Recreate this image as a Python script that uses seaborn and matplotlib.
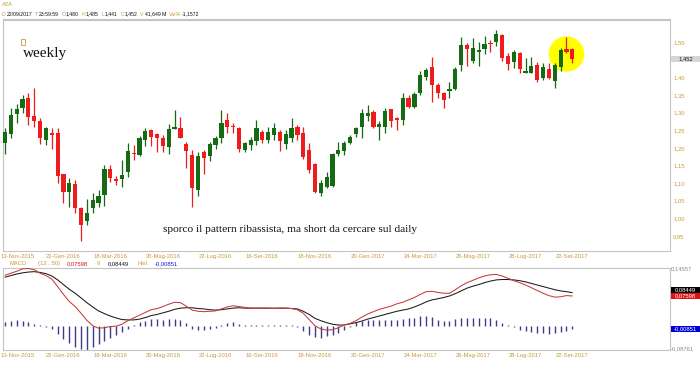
import numpy as np
import pandas as pd
import matplotlib
matplotlib.use("Agg")
import matplotlib.pyplot as plt
import matplotlib.transforms as mtransforms
from matplotlib.patches import Rectangle
import seaborn as sns

# ---------------- data ----------------
opens = [1.215, 1.240, 1.296, 1.312, 1.343, 1.291, 1.276, 1.221, 1.243, 1.241,
         1.126, 1.076, 1.097, 1.028, 0.993, 1.028, 1.044, 1.066, 1.139, 1.112,
         1.112, 1.132, 1.185, 1.180, 1.222, 1.251, 1.240, 1.229, 1.201, 1.254,
         1.256, 1.211, 1.180, 1.079, 1.189, 1.177, 1.208, 1.227, 1.279, 1.263,
         1.257, 1.194, 1.208, 1.220, 1.244, 1.222, 1.237, 1.244, 1.211, 1.227,
         1.260, 1.241, 1.194, 1.153, 1.073, 1.090, 1.093, 1.182, 1.191, 1.215,
         1.239, 1.260, 1.291, 1.303, 1.258, 1.260, 1.310, 1.284, 1.279, 1.343,
         1.317, 1.355, 1.402, 1.431, 1.379, 1.355, 1.362, 1.366, 1.436, 1.492,
         1.448, 1.473, 1.480, 1.499, 1.502, 1.521, 1.461, 1.443, 1.469, 1.414,
         1.414, 1.436, 1.398, 1.423, 1.391, 1.429, 1.481, 1.480]
highs = [1.256, 1.312, 1.325, 1.350, 1.357, 1.369, 1.284, 1.260, 1.256, 1.256,
         1.126, 1.114, 1.109, 1.033, 1.054, 1.071, 1.079, 1.151, 1.151, 1.120,
         1.166, 1.215, 1.208, 1.234, 1.256, 1.253, 1.241, 1.237, 1.267, 1.308,
         1.289, 1.218, 1.194, 1.189, 1.194, 1.218, 1.234, 1.308, 1.298, 1.272,
         1.260, 1.218, 1.232, 1.279, 1.251, 1.260, 1.270, 1.251, 1.251, 1.284,
         1.265, 1.260, 1.213, 1.156, 1.109, 1.132, 1.186, 1.218, 1.220, 1.237,
         1.260, 1.310, 1.322, 1.308, 1.277, 1.312, 1.310, 1.289, 1.355, 1.350,
         1.360, 1.417, 1.426, 1.457, 1.383, 1.360, 1.388, 1.431, 1.514, 1.497,
         1.511, 1.502, 1.518, 1.507, 1.535, 1.524, 1.469, 1.478, 1.473, 1.455,
         1.459, 1.445, 1.442, 1.440, 1.440, 1.483, 1.516, 1.485]
lows = [1.183, 1.227, 1.272, 1.298, 1.265, 1.260, 1.210, 1.208, 1.196, 1.099,
        1.043, 1.033, 1.016, 0.936, 0.981, 1.016, 1.033, 1.035, 1.104, 1.095,
        1.090, 1.118, 1.166, 1.177, 1.204, 1.205, 1.189, 1.189, 1.183, 1.253,
        1.227, 1.142, 1.031, 1.064, 1.126, 1.164, 1.196, 1.213, 1.241, 1.241,
        1.187, 1.187, 1.194, 1.208, 1.215, 1.213, 1.222, 1.192, 1.196, 1.218,
        1.222, 1.168, 1.128, 1.071, 1.064, 1.085, 1.088, 1.177, 1.180, 1.210,
        1.232, 1.227, 1.277, 1.256, 1.221, 1.241, 1.260, 1.251, 1.265, 1.312,
        1.312, 1.350, 1.393, 1.331, 1.341, 1.312, 1.341, 1.364, 1.417, 1.433,
        1.440, 1.433, 1.467, 1.473, 1.490, 1.448, 1.421, 1.426, 1.412, 1.412,
        1.412, 1.388, 1.393, 1.395, 1.369, 1.417, 1.469, 1.441]
closes = [1.246, 1.293, 1.311, 1.338, 1.287, 1.275, 1.227, 1.256, 1.237, 1.121,
          1.076, 1.101, 1.028, 0.981, 1.016, 1.052, 1.064, 1.139, 1.114, 1.107,
          1.123, 1.192, 1.183, 1.229, 1.248, 1.232, 1.229, 1.206, 1.253, 1.258,
          1.227, 1.192, 1.085, 1.177, 1.172, 1.211, 1.227, 1.270, 1.260, 1.260,
          1.197, 1.215, 1.221, 1.257, 1.222, 1.244, 1.257, 1.220, 1.239, 1.257,
          1.237, 1.175, 1.137, 1.074, 1.101, 1.116, 1.183, 1.194, 1.213, 1.232,
          1.257, 1.298, 1.300, 1.260, 1.268, 1.306, 1.277, 1.279, 1.343, 1.317,
          1.352, 1.407, 1.421, 1.379, 1.355, 1.336, 1.367, 1.423, 1.492, 1.480,
          1.485, 1.478, 1.495, 1.495, 1.524, 1.455, 1.438, 1.472, 1.423, 1.419,
          1.433, 1.393, 1.431, 1.398, 1.436, 1.478, 1.473, 1.452]

macd_line = [0.129, 0.134, 0.139, 0.145, 0.146, 0.143, 0.134, 0.128, 0.119, 0.100,
             0.080, 0.062, 0.049, 0.032, 0.014, 0.000, -0.006, -0.005, -0.002, -0.001,
             0.004, 0.013, 0.020, 0.027, 0.034, 0.041, 0.044, 0.049, 0.055, 0.060,
             0.059, 0.050, 0.040, 0.037, 0.036, 0.037, 0.038, 0.043, 0.048, 0.051,
             0.049, 0.047, 0.045, 0.045, 0.045, 0.045, 0.044, 0.045, 0.045, 0.044,
             0.041, 0.032, 0.016, 0.000, -0.008, -0.011, -0.010, -0.005, 0.002, 0.006,
             0.013, 0.022, 0.030, 0.036, 0.042, 0.046, 0.050, 0.056, 0.060, 0.066,
             0.072, 0.080, 0.087, 0.088, 0.085, 0.083, 0.083, 0.092, 0.102, 0.110,
             0.116, 0.122, 0.127, 0.130, 0.131, 0.127, 0.121, 0.115, 0.110, 0.104,
             0.097, 0.090, 0.083, 0.077, 0.073, 0.074, 0.077, 0.07598]
signal_line = [0.124, 0.128, 0.132, 0.135, 0.137, 0.138, 0.136, 0.133, 0.127, 0.117,
               0.105, 0.093, 0.083, 0.071, 0.059, 0.048, 0.038, 0.031, 0.025, 0.020,
               0.016, 0.015, 0.015, 0.017, 0.021, 0.026, 0.029, 0.033, 0.037, 0.042,
               0.045, 0.046, 0.046, 0.044, 0.043, 0.041, 0.040, 0.041, 0.043, 0.045,
               0.046, 0.045, 0.045, 0.045, 0.045, 0.045, 0.045, 0.045, 0.045, 0.044,
               0.043, 0.037, 0.029, 0.019, 0.013, 0.008, 0.004, 0.002, 0.002, 0.005,
               0.008, 0.012, 0.017, 0.021, 0.025, 0.029, 0.033, 0.037, 0.040, 0.043,
               0.048, 0.054, 0.061, 0.066, 0.069, 0.072, 0.076, 0.082, 0.089, 0.096,
               0.101, 0.105, 0.110, 0.114, 0.117, 0.118, 0.118, 0.117, 0.115, 0.112,
               0.108, 0.104, 0.100, 0.096, 0.092, 0.089, 0.087, 0.08449]
hist_values = [0.010, 0.013, 0.014, 0.013, 0.009, 0.005, 0.003, -0.003, -0.007, -0.021,
               -0.034, -0.044, -0.053, -0.060, -0.061, -0.055, -0.047, -0.038, -0.030, -0.023,
               -0.017, -0.007, 0.003, 0.009, 0.013, 0.017, 0.017, 0.015, 0.017, 0.017,
               0.015, 0.007, -0.007, -0.010, -0.010, -0.009, -0.005, 0.003, 0.007, 0.009,
               0.005, 0.002, 0.002, 0.002, 0.002, 0.002, 0.002, 0.002, 0.002, 0.002,
               -0.003, -0.012, -0.024, -0.029, -0.030, -0.027, -0.023, -0.019, -0.010, -0.004,
               0.009, 0.012, 0.014, 0.015, 0.015, 0.015, 0.014, 0.015, 0.017, 0.019,
               0.021, 0.024, 0.024, 0.022, 0.015, 0.012, 0.013, 0.017, 0.020, 0.020,
               0.020, 0.020, 0.019, 0.019, 0.015, 0.007, 0.003, -0.004, -0.010, -0.014,
               -0.016, -0.018, -0.019, -0.020, -0.019, -0.015, -0.013, -0.00851]

tick_index = [0, 10, 18, 27, 36, 44, 53, 62, 71, 80, 89, 97]
tick_labels = ["13-Nov-2015", "22-Gen-2016", "18-Mar-2016", "20-Mag-2016",
               "22-Lug-2016", "16-Set-2016", "18-Nov-2016", "20-Gen-2017",
               "24-Mar-2017", "26-Mag-2017", "28-Lug-2017", "22-Set-2017"]
price_ticks = [0.95, 1.00, 1.05, 1.10, 1.15, 1.20, 1.25, 1.30, 1.35, 1.40, 1.50]

last_price = 1.452
header_parts = [("D", "g"), ("22/09/2017", "k"), ("T", "g"), ("23:59:59", "k"),
                ("O", "g"), ("1,480", "k"), ("H", "g"), ("1,485", "k"),
                ("L", "g"), ("1,441", "k"), ("C", "g"), ("1,452", "k"),
                ("V", "g"), ("41,649 M", "k"), ("Var%", "g"), ("-1,1572", "k")]

# ---------------- style ----------------
sns.set_theme(style="white")
plt.rcParams["font.family"] = ["Liberation Sans", "DejaVu Sans"]

GOLD = "#c89b3c"
GREEN = "#146b14"
RED = "#ee1c1c"
SPINE = "#c4c4c4"

W, H = 700, 365
fig = plt.figure(figsize=(7, 3.65), dpi=100)
fig.patch.set_facecolor("white")

def fx(px):
    return px / W

def fy(py):
    return 1 - py / H

ax = fig.add_axes([fx(3), fy(251), fx(667), (251 - 19) / H])
ax2 = fig.add_axes([fx(3), fy(350), fx(667), (350 - 268.3) / H])

df = pd.DataFrame({"open": opens, "high": highs, "low": lows, "close": closes,
                   "macd": macd_line, "signal": signal_line, "hist": hist_values})
df["idx"] = np.arange(len(df))
up = df["close"] >= df["open"]
colors = np.where(up, GREEN, RED)

# ---------------- candles ----------------
ax.vlines(df["idx"], df["low"], df["high"], colors=colors, linewidth=0.9, zorder=3)
body_low = np.minimum(df["open"], df["close"])
body_h = np.maximum(np.abs(df["close"] - df["open"]), 0.003)
ax.bar(df["idx"], body_h, bottom=body_low, width=0.72, color=colors,
       linewidth=0, zorder=4)

# highlight circle round the last candles
cx = df["idx"].iloc[-3:].mean()
cy = (df["high"].iloc[-3:].max() + df["low"].iloc[-3:].min()) / 2
ax.scatter([cx], [cy], s=650, color="#ffff00", edgecolors="none", zorder=2)

ax.set_xlim(-0.34, 113.7)
ax.set_ylim(0.907, 1.566)
ax.yaxis.tick_right()
ax.set_yticks(price_ticks)
ax.set_yticklabels([f"{v:.2f}".replace(".", ",") for v in price_ticks])
ax.set_xticks(tick_index)
ax.set_xticklabels(tick_labels)
ax.tick_params(axis="both", length=0, labelsize=4.2, labelcolor=GOLD)
ax.tick_params(axis="x", pad=2.0)
ax.tick_params(axis="y", pad=2.2)
for sp in ax.spines.values():
    sp.set_color(SPINE)
    sp.set_linewidth(0.8)
ax.grid(False)

# current price box
tr = mtransforms.blended_transform_factory(fig.transFigure, ax.transData)
ax.add_patch(Rectangle((fx(671), last_price - 0.0085), fx(29), 0.017,
                       transform=tr, facecolor="#d6d6d6", edgecolor="none",
                       clip_on=False, zorder=5))
ax.text(fx(685.5), last_price, "1,452", transform=tr, ha="center", va="center",
        fontsize=4.2, color="#222222", zorder=6)

# annotations
fig.add_artist(Rectangle((fx(20.7), fy(44.7)), fx(4.6), 5.4 / H, transform=fig.transFigure,
                         facecolor="none", edgecolor=GOLD, linewidth=0.6))
fig.text(fx(22.5), fy(53.5), "weekly", fontsize=11, family="Liberation Serif",
         color="#111111", ha="left", va="center")
fig.text(fx(163), fy(229.5), "sporco il pattern ribassista, ma short da cercare sul daily",
         fontsize=8.2, family="Liberation Serif", color="#111111", ha="left", va="center")

# ---------------- MACD panel ----------------
ax2.vlines(df["idx"], 0, df["hist"], colors="#3b3b8f", linewidth=1.0, zorder=2)
sns.lineplot(data=df, x="idx", y="signal", ax=ax2, color="#1a1a1a", linewidth=0.75, zorder=3)
sns.lineplot(data=df, x="idx", y="macd", ax=ax2, color="#c83a3a", linewidth=0.75, zorder=4)
ax2.set_xlim(-0.34, 113.7)
ax2.set_ylim(-0.0617, 0.14657)
ax2.set_xlabel("")
ax2.set_ylabel("")
ax2.set_yticks([])
ax2.set_xticks(tick_index)
ax2.set_xticklabels(tick_labels)
ax2.tick_params(axis="x", length=0, labelsize=4.2, labelcolor=GOLD, pad=2.0)
for sp in ax2.spines.values():
    sp.set_color(SPINE)
    sp.set_linewidth(0.8)

# first date label sits at the left edge: keep it whole inside the figure
for a in (ax, ax2):
    first = a.get_xticklabels()[0]
    first.set_horizontalalignment("left")
    first.set_transform(first.get_transform() +
                        mtransforms.ScaledTranslation(-4.5 / 100, 0, fig.dpi_scale_trans))

tr2 = mtransforms.blended_transform_factory(fig.transFigure, ax2.transData)
fig.text(fx(671), fy(268.5), "0,14657", fontsize=4.2, color="#8a8a8a", ha="left", va="center")
fig.text(fx(671), fy(348.5), "-0,08761", fontsize=4.2, color="#8a8a8a", ha="left", va="center")
box_h = 0.0153
last_macd = df["macd"].iloc[-1]
last_hist = df["hist"].iloc[-1]
for val, txt, fc in [(last_macd + box_h + 0.0005, "0,08449", "#000000"),
                     (last_macd, "0,07598", "#e01010"),
                     (last_hist, "-0,00851", "#0000dd")]:
    ax2.add_patch(Rectangle((fx(671), val - box_h / 2), fx(29), box_h, transform=tr2,
                            facecolor=fc, edgecolor="none", clip_on=False, zorder=5))
    ax2.text(fx(685.5), val, txt, transform=tr2, ha="center", va="center",
             fontsize=4.2, color="white", zorder=6)

# MACD header
for x_px, txt, col in [(10, "MACD", GOLD), (38, "(12 , 50)", GOLD), (67, "0,07598", "#d01818"),
                       (97, "9", GOLD), (108, "0,08449", "#111111"), (137, "Hist", GOLD),
                       (155, "-0,00851", "#1a1acc")]:
    fig.text(fx(x_px), fy(263.3), txt, fontsize=4.2, color=col, ha="left", va="center")

# top header
fig.text(fx(2), fy(5), "A2A", fontsize=4.2, color=GOLD, ha="left", va="center")
renderer = fig.canvas.get_renderer()
xpos = 2.0
for txt, c in header_parts:
    t = fig.text(fx(xpos), fy(14), txt, fontsize=3.7, color=GOLD if c == "g" else "#111111",
                 ha="left", va="center")
    bb = t.get_window_extent(renderer)
    xpos += bb.width + (0.8 if c == "g" else 2.6)
fig.add_artist(plt.Line2D([fx(3), fx(670)], [fy(19.5), fy(19.5)], color=SPINE, linewidth=0.8))

fig.savefig("out.png", dpi=100, facecolor="white")
